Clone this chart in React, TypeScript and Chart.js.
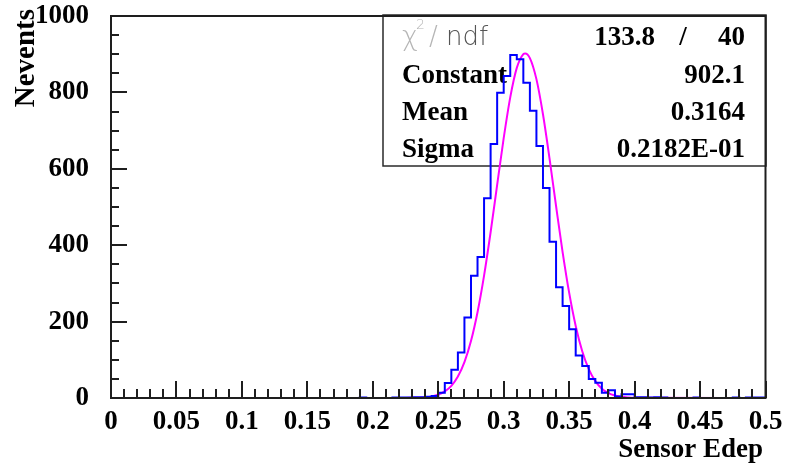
import React, { useEffect, useRef } from 'react';
import { Chart, registerables } from 'chart.js';
Chart.register(...registerables);

// Histogram: 100 bins from 0 to 0.5 (bin width 0.005)
const HIST_MIN = 0;
const HIST_MAX = 0.5;
const BIN_WIDTH = 0.005;
const counts = [
  0, 0, 0, 0, 0, 0, 0, 0, 0, 0,
  0, 0, 0, 0, 0, 0, 0, 0, 0, 0,
  0, 0, 0, 0, 0, 0, 0, 0, 0, 0,
  0, 0, 0, 0, 0, 0, 0, 0, 0, 1,
  0, 0, 0, 0, 1, 1, 1, 2, 2, 3,
  5, 14, 39, 74, 119, 211, 320, 369, 523, 665,
  799, 843, 898, 887, 825, 752, 660, 550, 409, 290,
  241, 180, 111, 84, 50, 40, 14, 20, 4, 10,
  10, 2, 2, 1, 2, 1, 0, 0, 0, 0,
  1, 0, 0, 0, 0, 0, 1, 0, 1, 1,
];

// Gaussian fit curve
const fitX = [
  0, 0.22, 0.225, 0.23, 0.235, 0.24, 0.245, 0.25, 0.255, 0.26, 0.265, 0.27, 0.275,
  0.28, 0.285, 0.29, 0.295, 0.3, 0.305, 0.31, 0.315, 0.3164, 0.32, 0.325, 0.33,
  0.335, 0.34, 0.345, 0.35, 0.355, 0.36, 0.365, 0.37, 0.375, 0.38, 0.385, 0.39,
  0.395, 0.4, 0.5,
];
const fitY = [
  0, 0.1, 0.1, 0.4, 0.9, 2.0, 4.3, 8.8, 17.2, 31.9, 56.2, 94.0, 149.1,
  224.5, 320.4, 433.9, 557.7, 680.1, 787.0, 864.1, 900.2, 902.1, 889.9, 834.7, 742.8,
  627.3, 502.6, 382.1, 275.7, 188.7, 122.5, 75.5, 44.1, 24.5, 12.9, 6.4, 3.0,
  1.4, 0.6, 0,
];

const xTickLabels = ['0', '0.05', '0.1', '0.15', '0.2', '0.25', '0.3', '0.35', '0.4', '0.45', '0.5'];
const yTickLabels = ['0', '200', '400', '600', '800', '1000'];
const statsNames = ['Constant', 'Mean', 'Sigma'];
const statsValues = ['902.1', '0.3164', '0.2182E-01'];
const chi2Value = '133.8';
const ndfValue = '40';
const xTitle = 'Sensor Edep';
const yTitle = 'Nevents';

const SERIF = '"Liberation Serif", "Times New Roman", serif';
const BOLD = `bold 27px ${SERIF}`;

const rootPlugin = {
  id: 'rootStyle',
  beforeDatasetsDraw(chart: any) {
    const { ctx } = chart;
    ctx.save();
    // stats box
    const bx = 383, by = 15, bw = 383, bh = 151;
    ctx.fillStyle = '#ffffff';
    ctx.fillRect(bx, by, bw, bh);
    ctx.strokeStyle = '#2a2a2a';
    ctx.lineWidth = 1.5;
    ctx.strokeRect(bx, by, bw, bh);

    const baselines = [45, 83, 120, 157];
    // chi2/ndf row
    ctx.textBaseline = 'alphabetic';
    ctx.textAlign = 'left';
    ctx.font = `300 27px "DejaVu Sans", sans-serif`;
    ctx.fillStyle = '#b5b5b5';
    ctx.fillText('\u03c7', 402, baselines[0]);
    ctx.font = `300 14px "DejaVu Sans", sans-serif`;
    ctx.fillText('2', 416, 29);
    ctx.font = `300 26px "DejaVu Sans", sans-serif`;
    ctx.fillText('/', 429, baselines[0]);
    ctx.fillStyle = '#555555';
    ctx.fillText('ndf', 446, baselines[0]);

    ctx.font = BOLD;
    ctx.fillStyle = '#000000';
    ctx.textAlign = 'right';
    ctx.fillText(chi2Value, 655, baselines[0]);
    ctx.textAlign = 'center';
    ctx.fillText('/', 683, baselines[0]);
    ctx.textAlign = 'right';
    ctx.fillText(ndfValue, 745, baselines[0]);

    statsNames.forEach((name, i) => {
      ctx.textAlign = 'left';
      ctx.fillText(name, 402, baselines[i + 1]);
      ctx.textAlign = 'right';
      ctx.fillText(statsValues[i], 745, baselines[i + 1]);
    });
    ctx.restore();
  },
  afterDatasetsDraw(chart: any) {
    const { ctx, chartArea, scales } = chart;
    const { left, right, top, bottom } = chartArea;
    const xs = scales.x;
    const ys = scales.y;
    ctx.save();
    ctx.strokeStyle = '#1e1e1e';
    ctx.lineWidth = 2;
    ctx.beginPath();
    ctx.rect(left, top, right - left, bottom - top);
    ctx.stroke();

    ctx.beginPath();
    for (let k = 0; k <= 50; k++) {
      const px = Math.round(xs.getPixelForValue(k / 100));
      const len = k % 5 === 0 ? 17 : 9;
      ctx.moveTo(px, bottom);
      ctx.lineTo(px, bottom - len);
    }
    for (let k = 0; k <= 20; k++) {
      const py = Math.round(ys.getPixelForValue(k * 50));
      const len = k % 4 === 0 ? 16 : 8;
      ctx.moveTo(left, py);
      ctx.lineTo(left + len, py);
    }
    ctx.stroke();

    // axis titles
    ctx.fillStyle = '#000000';
    ctx.font = BOLD;
    ctx.textBaseline = 'alphabetic';
    ctx.textAlign = 'right';
    ctx.fillText(xTitle, 763, 457);

    ctx.font = `bold 29px ${SERIF}`;
    ctx.translate(34, 9);
    ctx.rotate(-Math.PI / 2);
    ctx.textAlign = 'right';
    ctx.fillText(yTitle, 0, 0);
    ctx.restore();
  },
};

export default function App() {
  const ref = useRef<HTMLCanvasElement | null>(null);

  useEffect(() => {
    if (!ref.current) return;
    const histData = counts.map((c, i) => ({ x: HIST_MIN + i * BIN_WIDTH, y: c }));
    histData.push({ x: HIST_MAX, y: counts[counts.length - 1] });
    const fitData = fitX.map((x, i) => ({ x, y: fitY[i] }));

    const chart = new Chart(ref.current, {
      type: 'line',
      data: {
        datasets: [
          {
            label: 'hist',
            data: histData,
            stepped: 'after',
            borderColor: '#0000ff',
            borderWidth: 2,
            pointRadius: 0,
            fill: false,
          },
          {
            label: 'fit',
            data: fitData,
            borderColor: '#ff00ff',
            borderWidth: 2,
            pointRadius: 0,
            cubicInterpolationMode: 'monotone',
            fill: false,
          },
        ],
      },
      options: {
        responsive: false,
        maintainAspectRatio: false,
        animation: false,
        events: [],
        layout: { padding: { left: 0, right: 20.5, top: 16, bottom: 0 } },
        plugins: { legend: { display: false }, tooltip: { enabled: false } },
        scales: {
          x: {
            type: 'linear',
            min: HIST_MIN,
            max: HIST_MAX,
            grid: { display: false, drawTicks: false },
            border: { display: false },
            afterFit: (s: any) => {
              s.height = 69;
              s.paddingLeft = 0;
              s.paddingRight = 0;
            },
            afterBuildTicks: (s: any) => {
              s.ticks = xTickLabels.map((_, i) => ({ value: i * 0.05 }));
            },
            ticks: {
              autoSkip: false,
              maxRotation: 0,
              padding: 8,
              color: '#000000',
              font: { family: SERIF, size: 27, weight: 'bold' },
              callback: (_v: any, i: number) => xTickLabels[i],
            },
          },
          y: {
            type: 'linear',
            min: 0,
            max: 1000,
            grid: { display: false, drawTicks: false },
            border: { display: false },
            afterFit: (s: any) => {
              s.width = 111;
              s.paddingTop = 0;
              s.paddingBottom = 0;
            },
            afterBuildTicks: (s: any) => {
              s.ticks = yTickLabels.map((_, i) => ({ value: i * 200 }));
            },
            ticks: {
              autoSkip: false,
              padding: 22,
              color: '#000000',
              font: { family: SERIF, size: 27, weight: 'bold' },
              callback: (_v: any, i: number) => yTickLabels[i],
            },
          },
        },
      },
      plugins: [rootPlugin],
    } as any);
    return () => chart.destroy();
  }, []);

  return (
    <div style={{ position: 'fixed', left: 0, top: 0, width: 786, height: 467, background: '#ffffff' }}>
      <canvas ref={ref} width={786} height={467} style={{ display: 'block', width: 786, height: 467 }} />
    </div>
  );
}
